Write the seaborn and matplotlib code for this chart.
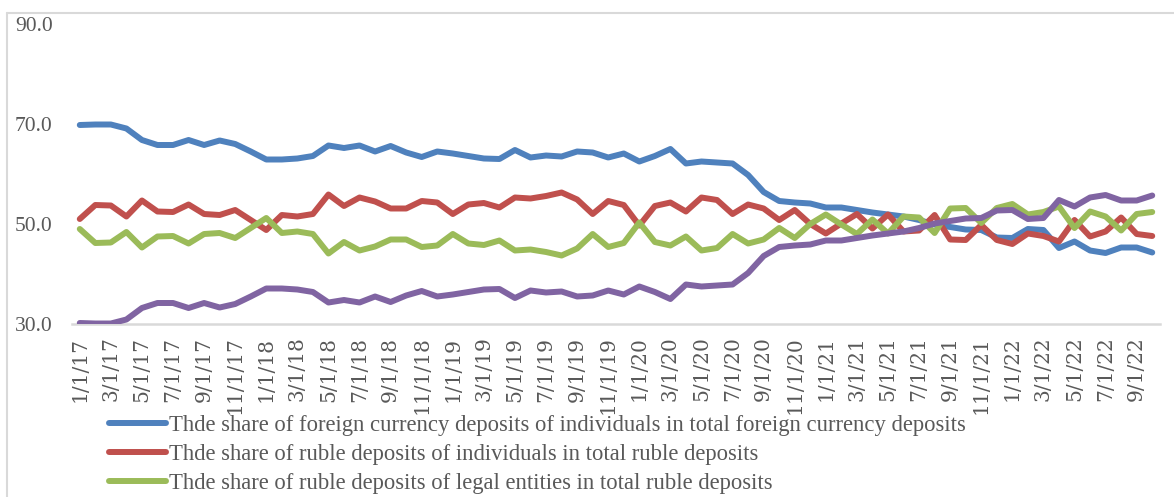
import numpy as np
import pandas as pd
import matplotlib
matplotlib.use("Agg")
import matplotlib.pyplot as plt
from matplotlib.lines import Line2D
import seaborn as sns

# ---- data -------------------------------------------------------------
months = pd.date_range("2017-01-01", periods=70, freq="MS")
month_labels = [f"{d.month}/1/{d.year % 100}" for d in months]

fx_individuals = [
    69.8, 69.9, 69.9, 69.1, 66.8, 65.8, 65.8, 66.8, 65.8, 66.7,
    66.0, 64.5, 62.9, 62.9, 63.1, 63.6, 65.7, 65.2, 65.7, 64.5,
    65.6, 64.3, 63.4, 64.5, 64.1, 63.6, 63.1, 63.0, 64.8, 63.3,
    63.7, 63.5, 64.5, 64.3, 63.3, 64.1, 62.5, 63.6, 65.0, 62.1,
    62.5, 62.3, 62.1, 59.8, 56.4, 54.6, 54.3, 54.1, 53.3, 53.3,
    52.8, 52.3, 51.9, 51.5, 50.8, 49.9, 49.4, 48.9, 48.8, 47.3,
    47.2, 49.0, 48.8, 45.2, 46.5, 44.7, 44.2, 45.3, 45.3, 44.3,
]
ruble_individuals = [
    51.0, 53.8, 53.7, 51.5, 54.7, 52.5, 52.4, 53.9, 52.0, 51.8,
    52.8, 50.8, 48.8, 51.8, 51.5, 52.0, 55.9, 53.6, 55.3, 54.5,
    53.1, 53.1, 54.6, 54.3, 52.0, 53.9, 54.2, 53.3, 55.3, 55.1,
    55.6, 56.3, 54.9, 52.0, 54.6, 53.8, 49.7, 53.6, 54.3, 52.5,
    55.3, 54.8, 52.0, 53.9, 53.1, 50.8, 52.8, 50.0, 48.1, 50.1,
    52.0, 49.1, 51.9, 48.5, 48.7, 51.8, 46.9, 46.8, 49.8, 46.8,
    46.0, 48.1, 47.6, 46.5, 50.8, 47.5, 48.5, 51.3, 48.0, 47.6,
]
ruble_legal = [
    49.0, 46.2, 46.3, 48.4, 45.3, 47.5, 47.6, 46.1, 48.0, 48.2,
    47.2, 49.2, 51.2, 48.2, 48.5, 48.0, 44.1, 46.4, 44.7, 45.5,
    46.9, 46.9, 45.4, 45.7, 48.0, 46.1, 45.8, 46.7, 44.7, 44.9,
    44.4, 43.7, 45.1, 48.0, 45.4, 46.2, 50.3, 46.4, 45.7, 47.5,
    44.7, 45.2, 48.0, 46.1, 46.9, 49.2, 47.2, 50.0, 51.9, 49.9,
    48.0, 50.9, 48.1, 51.5, 51.3, 48.2, 53.1, 53.2, 50.2, 53.2,
    54.0, 51.9, 52.4, 53.5, 49.2, 52.5, 51.5, 48.7, 52.0, 52.4,
]
fx_legal = [
    30.2, 30.1, 30.1, 30.9, 33.2, 34.2, 34.2, 33.2, 34.2, 33.3,
    34.0, 35.5, 37.1, 37.1, 36.9, 36.4, 34.3, 34.8, 34.3, 35.5,
    34.4, 35.7, 36.6, 35.5, 35.9, 36.4, 36.9, 37.0, 35.2, 36.7,
    36.3, 36.5, 35.5, 35.7, 36.7, 35.9, 37.5, 36.4, 35.0, 37.9,
    37.5, 37.7, 37.9, 40.2, 43.6, 45.4, 45.7, 45.9, 46.7, 46.7,
    47.2, 47.7, 48.1, 48.5, 49.2, 50.1, 50.6, 51.1, 51.2, 52.7,
    52.8, 51.0, 51.2, 54.8, 53.5, 55.3, 55.8, 54.7, 54.7, 55.7,
]
series_names = [
    "Thde share of foreign currency deposits of individuals in total foreign currency deposits",
    "Thde share of ruble deposits of individuals in total ruble deposits",
    "Thde share of ruble deposits of legal entities in total ruble deposits",
    "Thde share of foreign currency deposits of legal entities in total foreign currency deposits",
]
y_ticks = [30.0, 50.0, 70.0, 90.0]

# ---- build long table --------------------------------------------------
values = [fx_individuals, ruble_individuals, ruble_legal, fx_legal]
frames = []
for name, vals in zip(series_names, values):
    frames.append(pd.DataFrame({"pos": np.arange(len(vals)), "value": vals, "series": name}))
df = pd.concat(frames, ignore_index=True)

colors = ["#4F81BD", "#C0504D", "#9BBB59", "#8064A2"]
palette = dict(zip(series_names, colors))

sns.set_style("white")
plt.rcParams["font.family"] = ["Liberation Serif", "DejaVu Serif"]
text_color = "#595959"

W, H = 1174, 497
fig = plt.figure(figsize=(W / 100, H / 100), dpi=100)
ax = fig.add_axes([72 / W, (H - 324) / H, (1160 - 72) / W, (324 - 24) / H])

sns.lineplot(data=df, x="pos", y="value", hue="series", palette=palette,
             hue_order=series_names, linewidth=4.3, ax=ax, legend=False,
             solid_capstyle="round", solid_joinstyle="round")

ax.set_xlim(-0.5, len(month_labels) - 0.5)
ax.set_ylim(30, 90)
ax.set_yticks(y_ticks)
ax.set_yticklabels([f"{v:.1f}" for v in y_ticks], fontsize=15.5, color=text_color)
ax.set_xticks(np.arange(0, len(month_labels), 2))
ax.set_xticklabels(month_labels[::2], rotation=90, fontsize=14.5, color=text_color,
                   family=["DejaVu Serif"])
ax.tick_params(axis="x", length=0, pad=9)
ax.tick_params(axis="y", length=0, pad=14)
ax.set_xlabel("")
ax.set_ylabel("")
for s in ["top", "right", "left"]:
    ax.spines[s].set_visible(False)
ax.spines["bottom"].set_color("#D9D9D9")
ax.spines["bottom"].set_linewidth(1.8)
ax.spines["bottom"].set_zorder(0)
ax.set_facecolor("none")

# chart frame (top and left edges visible)
fig.add_artist(Line2D([7 / W, 1.0], [(H - 13) / H, (H - 13) / H], color="#D9D9D9", lw=1.5))
fig.add_artist(Line2D([7 / W, 7 / W], [0, (H - 13) / H], color="#D9D9D9", lw=1.5))

# legend: the fourth (purple) entry falls below the visible chart area
handles = [Line2D([0], [0], color=c, lw=4.3, solid_capstyle="round") for c in colors[:3]]
fig.legend(handles, series_names[:3], loc="upper left",
           bbox_to_anchor=(109 / W, (H - 415) / H), frameon=False,
           fontsize=16.3, labelcolor=text_color, handlelength=2.5,
           handletextpad=0.15, labelspacing=0.36, borderpad=0, borderaxespad=0)

fig.savefig("out.png", dpi=100)
